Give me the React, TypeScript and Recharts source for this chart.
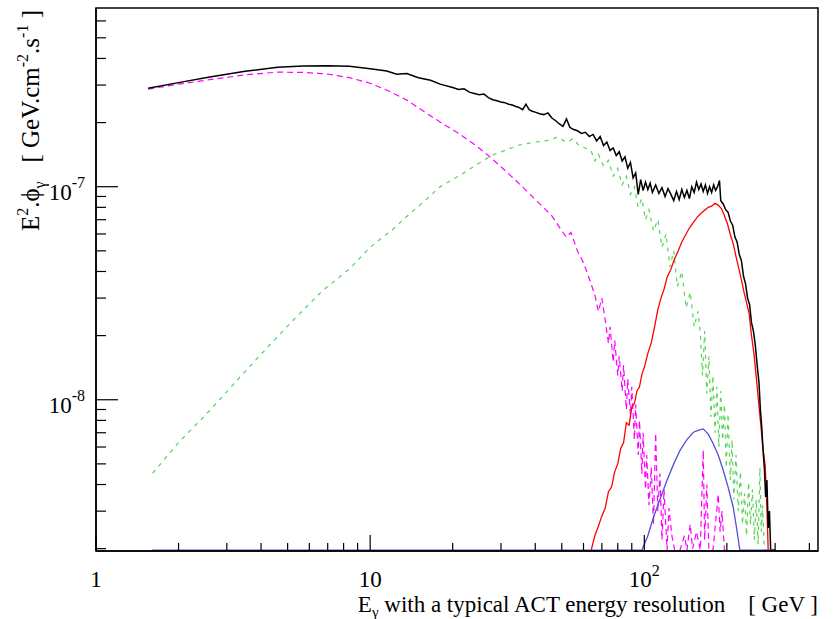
import React from 'react';
import { LineChart, Line, XAxis, YAxis } from 'recharts';

// total spectrum (black)
const totalE = [1.55, 2.0, 2.6, 3.5, 4.6, 5.7, 7.0, 8.4, 10, 11.5, 12.5, 13.6, 15, 16.6, 18, 20, 21, 22, 23, 24, 25, 26, 27, 28, 29, 30, 31, 32, 33, 34, 35, 36, 37, 38, 39, 40, 41.5, 43, 44.5, 46, 47.5, 49, 50.5, 52, 53.5, 55, 57, 59, 61, 63, 65, 67, 69, 71, 73, 75, 77, 79, 81, 83, 85, 87, 89, 91, 93, 95, 97, 99, 101, 103, 105, 107, 110, 113, 116, 119, 122, 125, 128, 131, 134, 137, 140, 143, 146, 149, 152, 155, 158, 161, 164, 167, 170, 173, 176, 179, 182, 185, 188, 190, 194, 198, 202, 206, 210, 214, 218, 222, 226, 230, 234, 238, 242, 246, 250, 254, 258, 262, 265, 268, 271, 274, 277, 280, 283, 286, 289, 300];
const totalV = [2.9e-7, 3.08e-7, 3.27e-7, 3.48e-7, 3.64e-7, 3.69e-7, 3.7e-7, 3.68e-7, 3.58e-7, 3.49e-7, 3.37e-7, 3.4e-7, 3.25e-7, 3.16e-7, 3.03e-7, 2.92e-7, 2.86e-7, 2.88e-7, 2.78e-7, 2.74e-7, 2.7e-7, 2.72e-7, 2.62e-7, 2.56e-7, 2.53e-7, 2.5e-7, 2.48e-7, 2.44e-7, 2.42e-7, 2.38e-7, 2.35e-7, 2.3e-7, 2.44e-7, 2.3e-7, 2.26e-7, 2.24e-7, 2.2e-7, 2.18e-7, 2.22e-7, 2.1e-7, 2.04e-7, 1.97e-7, 1.92e-7, 2.08e-7, 1.9e-7, 1.86e-7, 1.83e-7, 1.78e-7, 1.8e-7, 1.72e-7, 1.76e-7, 1.64e-7, 1.72e-7, 1.56e-7, 1.62e-7, 1.48e-7, 1.52e-7, 1.4e-7, 1.46e-7, 1.32e-7, 1.38e-7, 1.22e-7, 1.3e-7, 1.1e-7, 1.16e-7, 0.92e-7, 1.08e-7, 0.96e-7, 1.05e-7, 0.97e-7, 1.04e-7, 0.94e-7, 1.02e-7, 0.93e-7, 0.99e-7, 0.9e-7, 0.98e-7, 0.92e-7, 0.86e-7, 0.95e-7, 0.87e-7, 0.97e-7, 0.89e-7, 0.96e-7, 0.88e-7, 1.0e-7, 0.94e-7, 1.05e-7, 0.97e-7, 1.03e-7, 0.95e-7, 1.02e-7, 0.93e-7, 1.0e-7, 0.94e-7, 1.02e-7, 0.96e-7, 1.0e-7, 1.07e-7, 0.86e-7, 0.83e-7, 0.78e-7, 0.76e-7, 0.69e-7, 0.66e-7, 0.58e-7, 0.55e-7, 0.48e-7, 0.45e-7, 0.38e-7, 0.35e-7, 0.3e-7, 0.28e-7, 0.23e-7, 0.21e-7, 0.18e-7, 1.45e-8, 1.2e-8, 9.0e-9, 7.5e-9, 5.8e-9, 4.8e-9, 3.5e-9, 4.2e-9, 2.5e-9, 3.0e-9, 1.97e-9, 1.97e-9];

// soft component (magenta dashed)
const softE = [1.55, 2.0, 2.6, 3.5, 4.6, 5.7, 7.0, 8.4, 10, 11.8, 13.6, 16, 18, 21, 24, 27, 30, 34, 38, 42, 46, 50, 52, 54, 57, 60, 63, 66, 68, 70, 72, 74, 75, 77, 78, 80, 81, 83, 84, 86, 87, 89, 90, 92, 93, 95, 96, 98, 99, 101, 102, 104, 106, 108, 110, 112, 114, 116, 118, 121, 123, 126, 129, 135, 140, 143, 147, 150, 155, 160, 164, 166, 169, 172, 178, 186, 189, 192, 196, 200];
const softV = [2.87e-7, 3.03e-7, 3.18e-7, 3.35e-7, 3.45e-7, 3.44e-7, 3.38e-7, 3.25e-7, 3.06e-7, 2.8e-7, 2.55e-7, 2.22e-7, 2.01e-7, 1.78e-7, 1.58e-7, 1.4e-7, 1.24e-7, 1.07e-7, 9.3e-8, 8.2e-8, 7.3e-8, 6.2e-8, 5.8e-8, 6.1e-8, 5.0e-8, 4.4e-8, 3.7e-8, 3.1e-8, 2.6e-8, 3.0e-8, 2.36e-8, 1.84e-8, 2.2e-8, 1.5e-8, 1.9e-8, 1.3e-8, 1.6e-8, 1.1e-8, 1.45e-8, 9.0e-9, 1.25e-8, 8.5e-9, 1.15e-8, 6.5e-9, 9.5e-9, 5.5e-9, 8.0e-9, 4.5e-9, 7.0e-9, 3.8e-9, 5.5e-9, 3.2e-9, 4.8e-9, 2.6e-9, 6.97e-9, 3.0e-9, 4.5e-9, 2.2e-9, 3.8e-9, 1.97e-9, 3.1e-9, 2.3e-9, 1.97e-9, 1.97e-9, 2.3e-9, 1.97e-9, 2.6e-9, 2.0e-9, 2.4e-9, 1.97e-9, 5.8e-9, 2.2e-9, 4.0e-9, 1.97e-9, 1.97e-9, 3.6e-9, 2.4e-9, 3.0e-9, 1.97e-9, 1.97e-9];

// hard component (green dashed)
const hardE = [1.61, 2.0, 2.6, 3.3, 4.2, 5.3, 6.7, 8.45, 10, 12, 14, 16, 18, 21, 24, 28, 31, 35, 40, 45, 48, 52, 55, 58, 61, 64, 66, 68, 71, 74, 77, 80, 83, 86, 89, 92, 95, 98, 101, 104, 108, 112, 116, 120, 124, 128, 132, 137, 142, 147, 152, 157, 160, 163, 166, 169, 172, 175, 178, 181, 184, 187, 190, 193, 196, 199, 202, 206, 209, 212, 216, 220, 224, 228, 232, 236, 240, 244, 248, 252, 256, 260, 264, 267, 270, 274, 300];
const hardV = [4.52e-9, 6.3e-9, 8.9e-9, 1.25e-8, 1.75e-8, 2.4e-8, 3.25e-8, 4.14e-8, 5.2e-8, 6.25e-8, 7.5e-8, 8.7e-8, 1.0e-7, 1.12e-7, 1.25e-7, 1.41e-7, 1.48e-7, 1.57e-7, 1.62e-7, 1.65e-7, 1.71e-7, 1.62e-7, 1.68e-7, 1.55e-7, 1.52e-7, 1.47e-7, 1.32e-7, 1.42e-7, 1.25e-7, 1.33e-7, 1.12e-7, 1.22e-7, 1.02e-7, 1.12e-7, 0.92e-7, 1.0e-7, 0.8e-7, 0.88e-7, 0.7e-7, 0.78e-7, 0.62e-7, 0.7e-7, 0.52e-7, 0.6e-7, 0.42e-7, 0.5e-7, 0.34e-7, 0.4e-7, 0.27e-7, 0.32e-7, 0.22e-7, 0.26e-7, 2.05e-8, 1.3e-8, 2.1e-8, 1.07e-8, 1.6e-8, 8.3e-9, 1.3e-8, 7.0e-9, 1.15e-8, 6.0e-9, 1.1e-8, 6.46e-9, 9.5e-9, 4.8e-9, 8.6e-9, 4.2e-9, 6.5e-9, 3.4e-9, 5.5e-9, 3.0e-9, 4.6e-9, 2.6e-9, 3.64e-9, 2.3e-9, 4.1e-9, 2.6e-9, 3.8e-9, 2.2e-9, 3.4e-9, 2.1e-9, 4.8e-9, 2.4e-9, 3.2e-9, 1.97e-9, 1.97e-9];

// line signal (red)
const lineE = [64, 66, 68, 70, 72, 74, 76, 78, 80, 82, 84, 86, 88, 90, 92, 94, 96, 98, 100, 103, 106, 109, 112, 115, 118, 121, 125, 129, 133, 137, 141, 146, 151, 156, 161, 166, 171, 176, 181, 186, 191, 196, 201, 206, 211, 216, 221, 226, 231, 236, 241, 246, 251, 256, 261, 266, 271, 276, 280, 283];
const lineV = [1.97e-9, 2.3e-9, 2.55e-9, 2.85e-9, 3.1e-9, 3.7e-9, 3.9e-9, 4.6e-9, 5.0e-9, 5.9e-9, 6.3e-9, 7.8e-9, 7.6e-9, 9.2e-9, 9.6e-9, 1.1e-8, 1.15e-8, 1.32e-8, 1.42e-8, 1.65e-8, 1.85e-8, 2.2e-8, 2.65e-8, 3.0e-8, 3.3e-8, 3.75e-8, 4.1e-8, 4.6e-8, 5.0e-8, 5.5e-8, 5.9e-8, 6.4e-8, 6.8e-8, 7.2e-8, 7.5e-8, 7.75e-8, 8.0e-8, 8.1e-8, 8.35e-8, 8.2e-8, 7.9e-8, 7.3e-8, 6.7e-8, 5.95e-8, 5.4e-8, 4.7e-8, 4.15e-8, 3.65e-8, 3.2e-8, 2.85e-8, 2.55e-8, 2.0e-8, 1.65e-8, 1.28e-8, 9.8e-9, 7.6e-9, 5.9e-9, 4.9e-9, 3.1e-9, 1.97e-9];

// second line (blue)
const blueE = [1.6, 50, 95, 98, 103, 108, 114, 121, 128, 135, 143, 151, 158, 164, 171, 178, 186, 194, 202, 211, 217, 223, 260, 300];
const blueV = [1.97e-9, 1.97e-9, 1.97e-9, 1.97e-9, 2.3e-9, 2.81e-9, 3.4e-9, 4.19e-9, 5.0e-9, 5.79e-9, 6.5e-9, 7.04e-9, 7.2e-9, 7.3e-9, 6.9e-9, 6.25e-9, 5.5e-9, 4.67e-9, 3.9e-9, 3.13e-9, 2.5e-9, 1.97e-9, 1.97e-9, 1.97e-9];

const xTicks = [1, 2, 3, 4, 5, 6, 7, 8, 9, 10, 20, 30, 40, 50, 60, 70, 80, 90, 100, 200, 300, 400];
const yTicks = [2e-9, 3e-9, 4e-9, 5e-9, 6e-9, 7e-9, 8e-9, 9e-9, 1e-8, 2e-8, 3e-8, 4e-8, 5e-8, 6e-8, 7e-8, 8e-8, 9e-8, 1e-7, 2e-7, 3e-7, 4e-7, 5e-7, 6e-7];

const toPts = (e: number[], v: number[]) => e.map((x, i) => ({ e: x, v: v[i] }));

const FONT = '"Liberation Serif", "Times New Roman", serif';

const XTick = (props: any) => {
  const { x, y, payload } = props;
  const v = payload.value;
  const major = v === 1 || v === 10 || v === 100;
  let label: React.ReactNode = null;
  if (v === 1 || v === 10) {
    label = <text x={x} y={y + 36} textAnchor="middle" fontSize={23} fontFamily={FONT}>{String(v)}</text>;
  } else if (v === 100) {
    label = (
      <text x={x} y={y + 36} textAnchor="middle" fontSize={23} fontFamily={FONT}>
        10<tspan dy={-11} fontSize={16}>2</tspan>
      </text>
    );
  }
  return (
    <g>
      <line x1={x} x2={x} y1={y} y2={y - (major ? 16 : 8)} stroke="#000" strokeWidth={1.2} />
      {label}
    </g>
  );
};

const YTick = (props: any) => {
  const { x, y, payload } = props;
  const v = payload.value;
  const major = v === 1e-7 || v === 1e-8;
  const exp = v === 1e-7 ? '-7' : '-8';
  return (
    <g>
      <line x1={x} x2={x + (major ? 22 : 10)} y1={y} y2={y} stroke="#000" strokeWidth={1.2} />
      {major && (
        <text x={x - 11} y={y + 13} textAnchor="end" fontSize={23} fontFamily={FONT}>
          10<tspan dy={-12} fontSize={16}>{exp}</tspan>
        </text>
      )}
    </g>
  );
};

export default function App() {
  return (
    <div style={{ position: 'absolute', left: 0, top: 0, width: 833, height: 619, background: '#fff' }}>
      <LineChart width={833} height={619} margin={{ top: 8, right: 15, bottom: 0, left: 0 }}>
        <XAxis
          dataKey="e"
          type="number"
          scale="log"
          domain={[1, 430]}
          allowDataOverflow
          ticks={xTicks}
          interval={0}
          height={68}
          tickSize={0}
          tickMargin={0}
          tickLine={false}
          tick={<XTick />}
          axisLine={{ stroke: '#000', strokeWidth: 1.5 }}
        />
        <YAxis
          dataKey="v"
          type="number"
          scale="log"
          domain={[1.95e-9, 6.9e-7]}
          allowDataOverflow
          ticks={yTicks}
          interval={0}
          width={96}
          tickSize={0}
          tickMargin={0}
          tickLine={false}
          tick={<YTick />}
          axisLine={{ stroke: '#000', strokeWidth: 1.5 }}
        />
        <Line data={toPts(hardE, hardV)} dataKey="v" type="linear" stroke="#55d455" strokeWidth={1.2} strokeDasharray="4 5" dot={false} isAnimationActive={false} />
        <Line data={toPts(softE, softV)} dataKey="v" type="linear" stroke="#ff00ff" strokeWidth={1.2} strokeDasharray="6 4" dot={false} isAnimationActive={false} />
        <Line data={toPts(lineE, lineV)} dataKey="v" type="linear" stroke="#ff0000" strokeWidth={1.3} dot={false} isAnimationActive={false} />
        <Line data={toPts(totalE, totalV)} dataKey="v" type="linear" stroke="#000" strokeWidth={1.5} dot={false} isAnimationActive={false} />
        <Line data={toPts(blueE, blueV)} dataKey="v" type="linear" stroke="#5050d8" strokeWidth={1.3} dot={false} isAnimationActive={false} />
      </LineChart>
      <svg width={833} height={619} style={{ position: 'absolute', left: 0, top: 0, pointerEvents: 'none' }}>
        <rect x={96} y={8} width={722} height={543} fill="none" stroke="#000" strokeWidth={1.5} />
        <text transform="translate(39,10) rotate(-90)" textAnchor="end" fontSize={25} fontFamily={FONT}>
          E<tspan dy={-11} fontSize={16}>2</tspan><tspan dy={11}>.ϕ</tspan><tspan dy={6} fontSize={16}>γ</tspan>
          <tspan dy={-6}>{'\u00a0\u00a0\u00a0[ GeV.cm'}</tspan><tspan dy={-11} fontSize={16}>-2</tspan>
          <tspan dy={11}>.s</tspan><tspan dy={-11} fontSize={16}>-1</tspan><tspan dy={11}> ]</tspan>
        </text>
        <text x={818} y={612} textAnchor="end" fontSize={23} fontFamily={FONT}>
          E<tspan dy={5} fontSize={15}>γ</tspan><tspan dy={-5}>{' with a typical ACT energy resolution\u00a0\u00a0\u00a0\u00a0[ GeV ]'}</tspan>
        </text>
      </svg>
    </div>
  );
}
